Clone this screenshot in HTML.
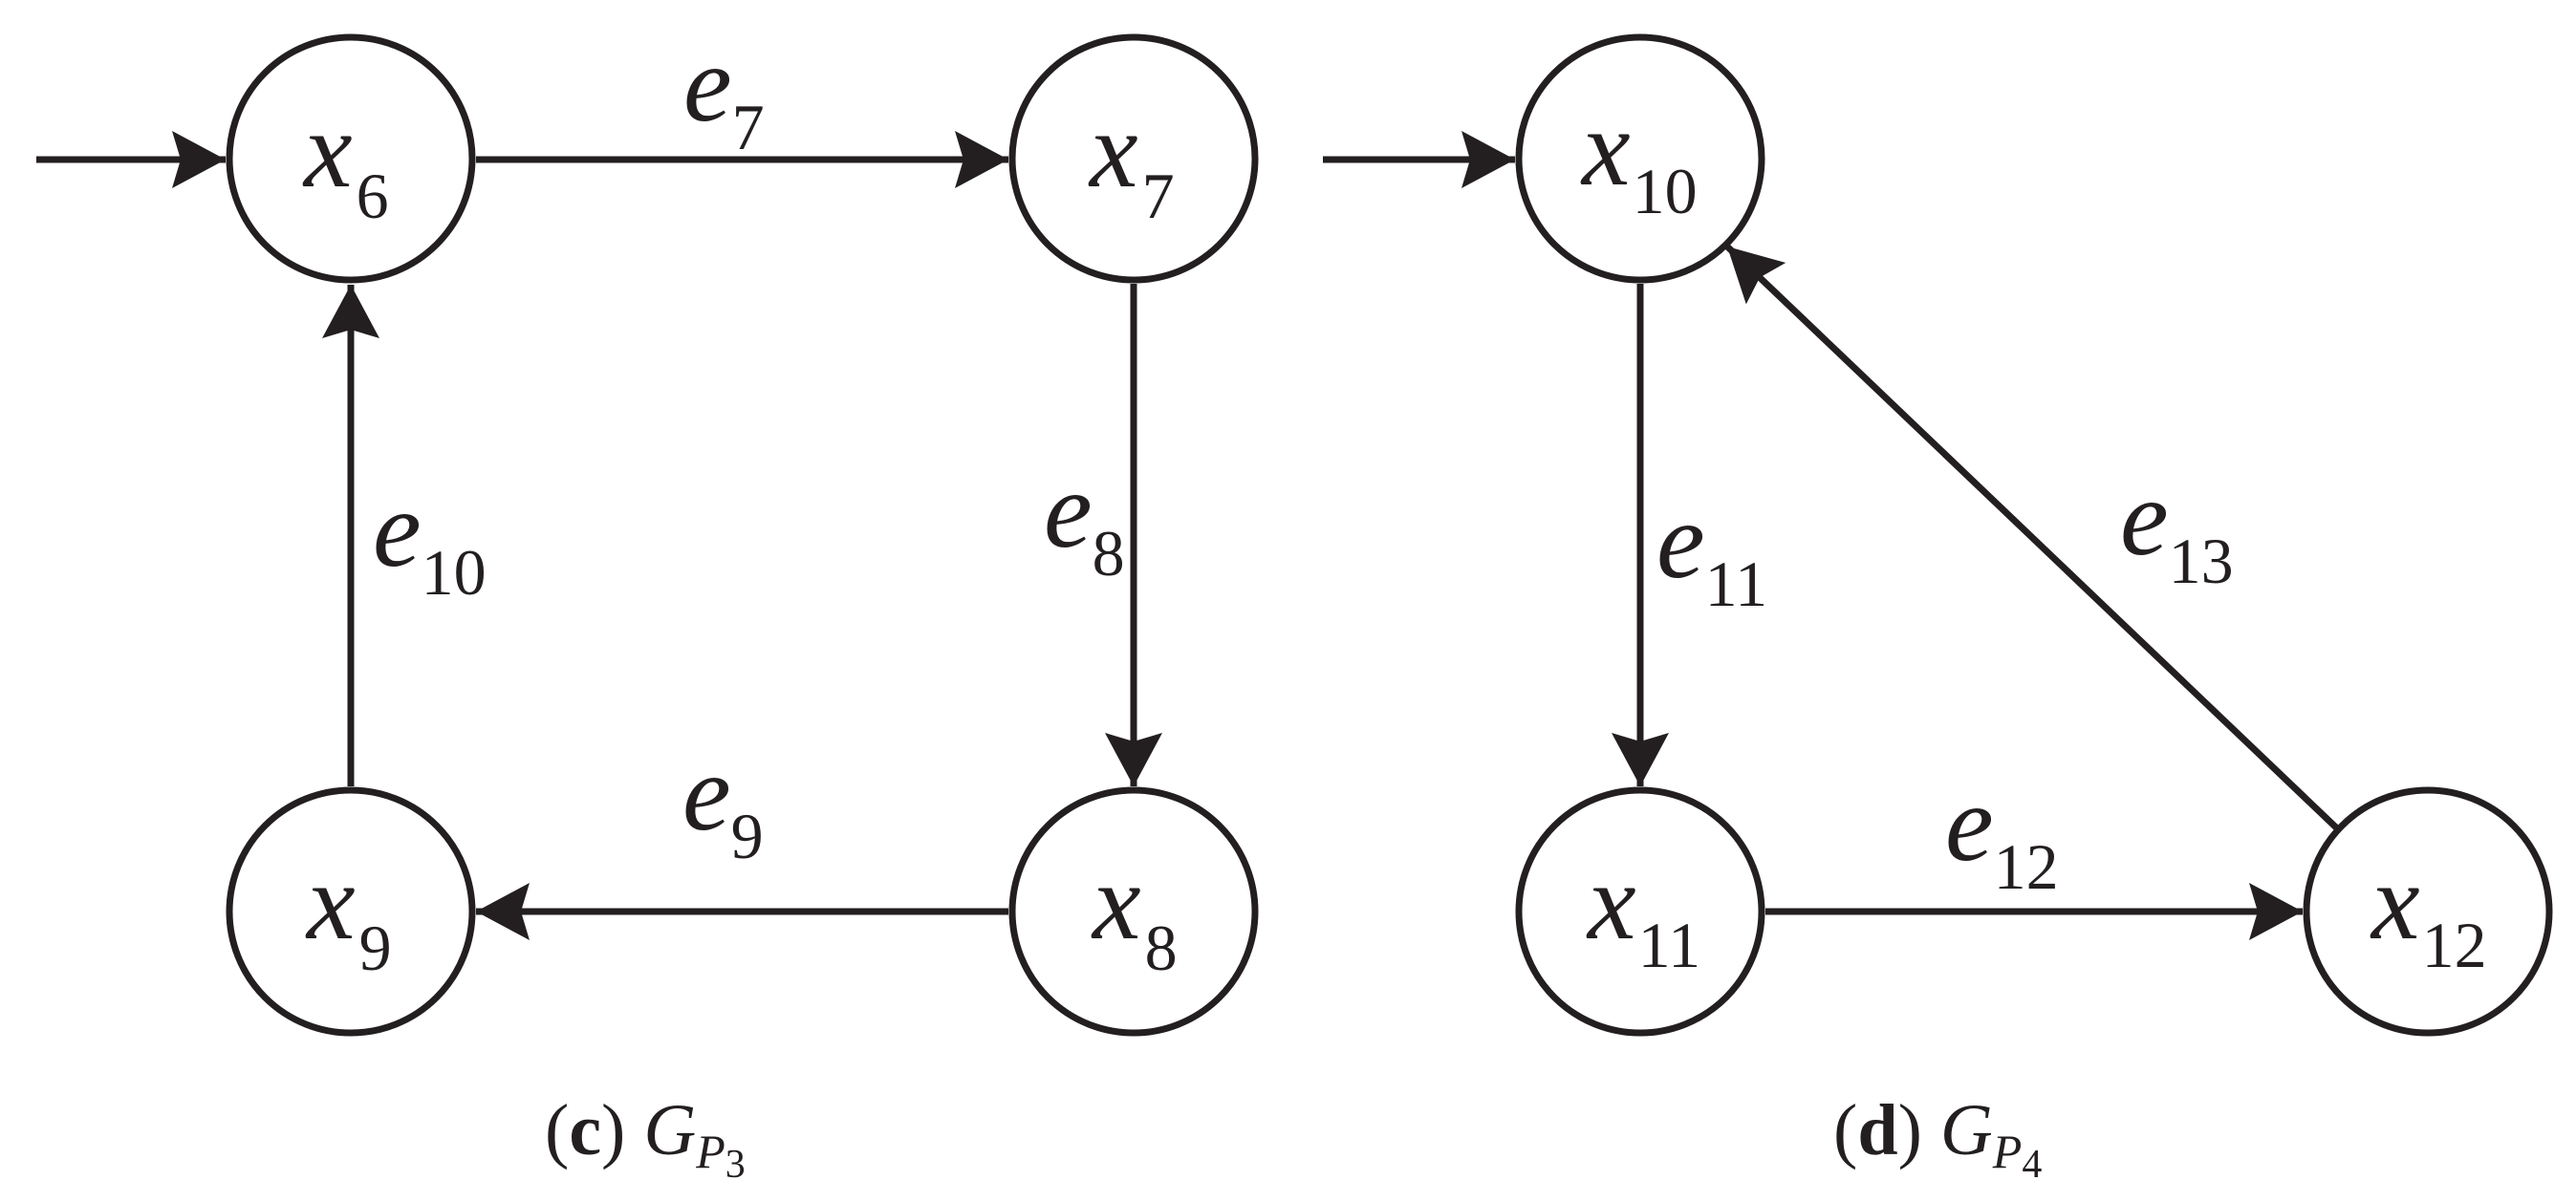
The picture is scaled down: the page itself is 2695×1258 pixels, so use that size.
<!DOCTYPE html>
<html><head><meta charset="utf-8"><style>
html,body{margin:0;padding:0;background:#fff;}
svg{display:block;}
text{font-family:"Liberation Serif",serif;fill:#231f20;}
.m{font-style:italic;font-size:114px;}
.s{font-size:68px;font-style:normal;}
.c{font-size:76px;}
</style></head><body>
<svg width="2695" height="1258" viewBox="0 0 2695 1258" xmlns="http://www.w3.org/2000/svg">
<defs>
<marker id="a" markerUnits="userSpaceOnUse" markerWidth="60" markerHeight="64" refX="56" refY="30" orient="auto">
<path d="M56,30 L0,0 L9,30 L0,60 Z" fill="#231f20"/>
</marker>
</defs>
<g stroke="#231f20" stroke-width="7" fill="none">
<circle cx="367" cy="166" r="127"/>
<circle cx="1186" cy="166" r="127"/>
<circle cx="367" cy="954" r="127"/>
<circle cx="1186" cy="954" r="127"/>
<circle cx="1716" cy="166" r="127"/>
<circle cx="1716" cy="954" r="127"/>
<circle cx="2540" cy="954" r="127"/>
<line x1="38" y1="167" x2="236" y2="167" marker-end="url(#a)"/>
<line x1="498" y1="167" x2="1055" y2="167" marker-end="url(#a)"/>
<line x1="1186" y1="297" x2="1186" y2="823" marker-end="url(#a)"/>
<line x1="1055" y1="954" x2="498" y2="954" marker-end="url(#a)"/>
<line x1="367" y1="823" x2="367" y2="298" marker-end="url(#a)"/>
<line x1="1384" y1="167" x2="1585" y2="167" marker-end="url(#a)"/>
<line x1="1716" y1="297" x2="1716" y2="823" marker-end="url(#a)"/>
<line x1="1847" y1="954" x2="2409" y2="954" marker-end="url(#a)"/>
<line x1="2444" y1="866" x2="1807" y2="258" marker-end="url(#a)"/>
</g>
<text class="m" x="318" y="195">x<tspan class="s" dx="4" dy="33">6</tspan></text>
<text class="m" x="1140" y="195">x<tspan class="s" dx="4" dy="33">7</tspan></text>
<text class="m" x="1143" y="982">x<tspan class="s" dx="4" dy="33">8</tspan></text>
<text class="m" x="321" y="982">x<tspan class="s" dx="4" dy="33">9</tspan></text>
<text class="m" x="1655" y="193">x<tspan class="s" dx="2" dy="30">10</tspan></text>
<text class="m" x="1661" y="982">x<tspan class="s" dx="2" dy="30">11</tspan></text>
<text class="m" x="2481" y="982">x<tspan class="s" dx="2" dy="30">12</tspan></text>
<text class="m" x="715" y="126">e<tspan class="s" dx="0" dy="30">7</tspan></text>
<text class="m" x="1092" y="572">e<tspan class="s" dx="0" dy="30">8</tspan></text>
<text class="m" x="714" y="868">e<tspan class="s" dx="0" dy="30">9</tspan></text>
<text class="m" x="390" y="592">e<tspan class="s" dx="0" dy="30">10</tspan></text>
<text class="m" x="1733" y="604">e<tspan class="s" dx="0" dy="30">11</tspan></text>
<text class="m" x="2035" y="900">e<tspan class="s" dx="0" dy="30">12</tspan></text>
<text class="m" x="2218" y="580">e<tspan class="s" dx="0" dy="30">13</tspan></text>
<text class="c" x="570" y="1208">(<tspan font-weight="bold">c</tspan>) <tspan font-style="italic">G</tspan><tspan font-style="italic" font-size="50" dy="14">P</tspan><tspan font-size="42" dy="10">3</tspan></text>
<text class="c" x="1918" y="1208">(<tspan font-weight="bold">d</tspan>) <tspan font-style="italic">G</tspan><tspan font-style="italic" font-size="50" dy="14">P</tspan><tspan font-size="42" dy="10">4</tspan></text>
</svg>
</body></html>
